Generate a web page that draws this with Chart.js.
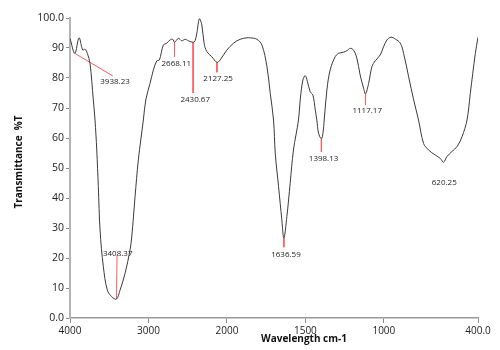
<!DOCTYPE html>
<html>
<head>
<meta charset="utf-8">
<script src="https://cdn.jsdelivr.net/npm/chart.js@4"></script>
<style>
  html, body { margin: 0; padding: 0; background: #fff; }
  #wrap { width: 500px; height: 350px; }
</style>
</head>
<body>
<div id="wrap"><canvas id="ir"></canvas></div>
<script>
// spectrum (wavenumber cm-1, %T)
const waveNumbers = [4000, 3938, 3885, 3838, 3809, 3779, 3745, 3703, 3681, 3659, 3639, 3617, 3575, 3524, 3468, 3408,
  3362, 3298, 3235, 3213, 3171, 3129, 3065, 3034, 2980, 2937, 2894, 2861, 2810, 2767, 2724, 2690, 2668,
  2619, 2575, 2533, 2491, 2431, 2406, 2384, 2351, 2320, 2291, 2256, 2193, 2127, 2087, 2001, 1958, 1916,
  1873, 1852, 1809, 1777, 1745, 1724, 1703, 1692, 1671, 1650, 1637, 1618, 1597, 1576, 1544, 1533, 1516,
  1501, 1487, 1469, 1452, 1437, 1427, 1416, 1398, 1388, 1380, 1363, 1342, 1310, 1289, 1257, 1235, 1214,
  1193, 1172, 1151, 1129, 1117, 1097, 1076, 1055, 1023, 1002, 980, 955, 927, 895, 874, 842, 810, 779,
  747, 715, 672, 640, 620, 598, 566, 534, 502, 470, 449, 417, 400];
const transmittance = [93.2, 88.2, 93.4, 89.3, 89.6, 88.2, 84.9, 72.7, 66, 56, 43.8, 29.3, 17.1, 9.3, 7.1, 6.3,
  9.3, 14.9, 22.7, 27, 40.4, 52.7, 66, 72.7, 78.2, 82.7, 85.7, 86, 91, 91.6, 92.7, 92.9, 91.9,
  93.2, 92.4, 92.9, 92.4, 91.9, 92.4, 94.9, 99.7, 97.7, 91.6, 88.8, 87.1, 85.2, 86, 89.3, 91.6, 92.9,
  93.4, 93.4, 92.9, 91, 83.8, 74.9, 66, 54.9, 43.8, 32.7, 26.6, 33.8, 44.9, 56, 66, 72.7, 79.3,
  80.8, 78.8, 75.4, 74.3, 69.3, 66, 61.6, 59.7, 61.6, 66, 76, 82.7, 87.1, 88.2, 88.6, 89.1, 89.9,
  89.3, 86.6, 81, 76.6, 74.7, 78.2, 83.8, 85.7, 87.7, 90.4, 92.7, 93.6, 93, 91.6, 88.2, 80.4, 72.7, 66,
  58.2, 56, 54.3, 53.2, 51.9, 53.8, 55.5, 57.1, 60.4, 66, 74.9, 88.2, 93.6];

// peak annotations
const peakLabels = ["3938.23", "3408.37", "2668.11", "2430.67", "2127.25", "1636.59", "1398.13", "1117.17", "620.25"];
const leaderFromWave = [3938, 3408, 2668, 2431, 2127, 1637, 1398, 1117, null];
const leaderFromT = [88.2, 6.3, 91.9, 91.9, 85.2, 26.6, 59.7, 74.7, null];
const leaderToWave = [3455, 3400, 2668, 2431, 2127, 1637, 1398, 1117, null];
const leaderToT = [80.7, 21, 87, 75, 81.9, 23.6, 55.4, 71, null];
const labelWave = [3426, 3392, 2645, 2404, 2112, 1624, 1384, 1106, 615];
const labelT = [78.6, 21.5, 84.8, 72.8, 79.6, 21.2, 53, 69.1, 45.1];

const xTickWaves = [4000, 3000, 2000, 1500, 1000, 400];
const xTickLabels = ["4000", "3000", "2000", "1500", "1000", "400.0"];
const yTickLabels = ["0.0", "10", "20", "30", "40", "50", "60", "70", "80", "90", "100.0"];

// axis is stretched 2x below 2000 cm-1
function toAxis(w) {
  return w >= 2000 ? 4000 - w : 2000 + 2 * (2000 - w);
}

const spectrum = waveNumbers.map((w, i) => ({ x: toAxis(w), y: transmittance[i] }));

const leaderSets = [];
leaderFromWave.forEach((w, i) => {
  if (w === null) return;
  leaderSets.push({
    data: [{ x: toAxis(w), y: leaderFromT[i] }, { x: toAxis(leaderToWave[i]), y: leaderToT[i] }],
    borderColor: "#ff5a5a",
    borderWidth: 1,
    pointRadius: 0,
    tension: 0
  });
});

const labelPlugin = {
  id: "irLabels",
  afterDatasetsDraw(chart) {
    const { ctx, scales } = chart;
    ctx.save();
    ctx.fillStyle = "#222";
    ctx.font = "8px 'Open Sans'";
    ctx.textAlign = "center";
    ctx.textBaseline = "middle";
    peakLabels.forEach((t, i) => {
      ctx.fillText(t, scales.x.getPixelForValue(toAxis(labelWave[i])), scales.y.getPixelForValue(labelT[i]));
    });
    ctx.fillStyle = "#111";
    ctx.font = "bold 10px 'Open Sans'";
    ctx.fillText("Wavelength cm-1", 304, 339);
    ctx.translate(19, 162);
    ctx.rotate(-Math.PI / 2);
    ctx.fillText("Transmittance  %T", 0, 0);
    ctx.restore();
  }
};

new Chart(document.getElementById("ir"), {
  type: "line",
  data: {
    datasets: [{
      data: spectrum,
      borderColor: "#3a3a3a",
      borderWidth: 1,
      pointRadius: 0,
      tension: 0.35
    }].concat(leaderSets)
  },
  options: {
    responsive: true,
    maintainAspectRatio: false,
    animation: false,
    layout: { padding: { top: 18, right: 22, left: 0, bottom: 0 } },
    plugins: { legend: { display: false }, tooltip: { enabled: false } },
    scales: {
      x: {
        type: "linear",
        min: 0,
        max: toAxis(400),
        afterBuildTicks(axis) {
          axis.ticks = xTickWaves.map(w => ({ value: toAxis(w) }));
        },
        afterFit(axis) { axis.height = 32; },
        ticks: {
          autoSkip: false,
          maxRotation: 0,
          color: "#222",
          font: { family: "'Open Sans'", size: 10 },
          padding: 2,
          callback: (v, i) => xTickLabels[i]
        },
        grid: { drawOnChartArea: false, drawTicks: true, tickLength: 5, color: "#888" },
        border: { display: true, color: "#999", width: 1.5 }
      },
      y: {
        min: 0,
        max: 100,
        afterBuildTicks(axis) {
          axis.ticks = yTickLabels.map((t, i) => ({ value: i * 10 }));
        },
        afterFit(axis) { axis.width = 70; },
        ticks: {
          color: "#222",
          font: { family: "'Open Sans'", size: 10.5 },
          padding: 2,
          callback: (v, i) => yTickLabels[i]
        },
        grid: { drawOnChartArea: false, drawTicks: true, tickLength: 4, color: "#888" },
        border: { display: true, color: "#b5b5b5", width: 2 }
      }
    }
  },
  plugins: [labelPlugin]
});
</script>
</body>
</html>
